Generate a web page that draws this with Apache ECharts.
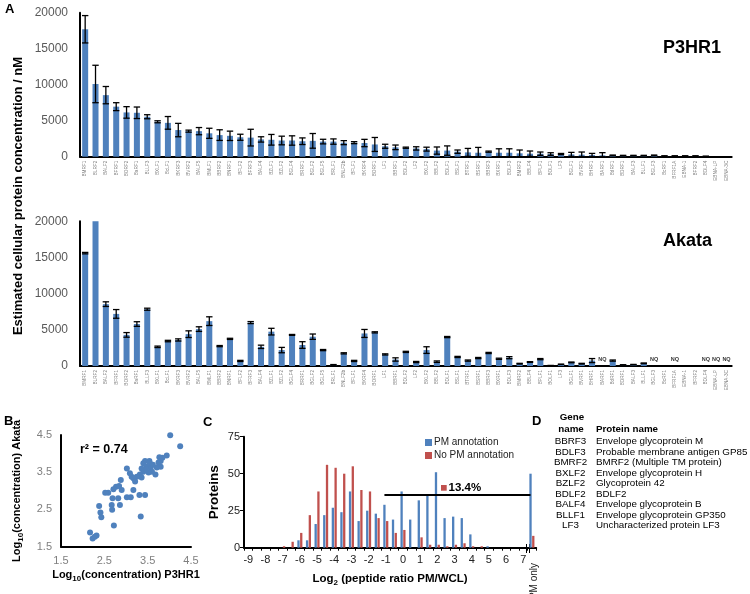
<!DOCTYPE html>
<html>
<head>
<meta charset="utf-8">
<script src="https://cdn.jsdelivr.net/npm/echarts@6/dist/echarts.min.js"></script>
<style>
html,body{margin:0;padding:0;background:#fff;}
#c{width:750px;height:594px;}
</style>
</head>
<body>
<div id="c"></div>
<script>
// ---------- Panel A data ----------
const categories = ['BMRF1','BLRF2','BALF2','BFRF1','BORF2','BaRF1','BLLF3','BXLF1','BcLF1','BKRF3','BVRF2','BALF5','BMLF1','BBRF2','BNRF1','BFLF2','BFRF3','BALF4','BZLF1','BZLF2','BGLF4','BRRF1','BGLF2','BGLF5','BRLF1','BNLF2b','BFLF1','BKRF4','BORF1','LF1','BBRF1','BDLF2','LF2','BXLF2','BBLF2','BDLF1','BSLF1','BTRF1','BSRF1','BBRF3','BXRF1','BDLF3','BMRF2','BBLF4','BPLF1','BOLF1','LF3','BGLF1','BVRF1','BHRF1','BARF1','BdRF1','BDRF1','BALF3','BLLF1','BGLF3','BcRF1','BFRF1A','EBNA-1','BFRF2','BDLF4','EBNA-LP','EBNA-3C'];
const p3hr1 = [17700,10100,8550,6950,6150,6100,5550,4850,4700,3700,3550,3550,3250,3000,2900,2700,2650,2400,2350,2250,2250,2150,2200,2100,2100,1950,1950,1900,1700,1450,1300,1250,1150,1050,850,850,700,600,550,700,550,550,470,420,420,370,370,320,280,230,190,180,140,140,140,180,90,90,90,90,50,0,0];
const p3hr1Err = [1900,2600,1200,550,800,800,280,140,880,930,140,500,700,740,650,420,1160,370,740,600,650,460,1020,320,370,280,140,510,970,280,320,80,230,270,500,650,230,550,740,80,550,550,460,370,230,180,80,280,370,230,370,50,50,50,50,50,40,40,40,40,30,0,0];
const akata = [15600,20000,8550,7200,4300,5800,7850,2650,3450,3600,4400,5100,6200,2750,3750,700,6000,2650,4750,2200,4300,2900,4050,2200,150,1750,700,4500,4650,1600,900,1950,550,2200,600,4000,1250,750,1100,1800,1000,1150,320,550,950,50,230,500,320,750,null,750,140,180,370,null,0,null,0,0,null,null,null];
const akataErr = [100,null,320,600,320,320,140,100,100,150,460,320,600,80,80,80,140,230,460,370,60,460,370,80,50,80,80,550,80,80,230,80,80,460,100,80,80,80,80,80,80,140,50,50,80,30,30,50,50,280,0,80,40,40,50,0,0,0,0,0,0,0,0];
const nqAkata = ['BARF1','BGLF3','BFRF1A','BDLF4','EBNA-LP','EBNA-3C'];

// ---------- Panel B data ----------
const scatterB = [
 [4.02,4.49],[4.25,4.20],[3.94,3.95],[3.84,3.89],[3.77,3.90],[3.80,3.80],[3.75,3.76],[3.80,3.65],
 [3.68,3.44],[3.54,3.80],[3.44,3.80],[3.40,3.74],[3.48,3.65],[3.57,3.63],[3.60,3.51],[3.52,3.49],
 [3.40,3.51],[3.32,3.44],[3.36,3.36],[3.25,3.38],[3.17,3.34],[3.21,3.25],[3.13,3.38],[3.02,3.60],
 [3.09,3.47],[2.88,3.29],[2.90,3.02],[2.77,3.11],[2.71,3.04],[2.84,3.13],[2.59,2.95],[2.52,2.95],
 [3.02,2.83],[3.11,2.83],[3.17,3.02],[3.31,2.89],[3.44,2.89],[2.69,2.80],[2.82,2.80],[2.86,2.62],
 [2.67,2.62],[2.68,2.49],[2.38,2.59],[2.41,2.42],[2.43,2.29],[2.72,2.07],[3.34,2.31],[2.17,1.88],
 [2.23,1.72],[2.32,1.80],[2.28,1.77],[3.55,3.74],[3.71,3.63],[3.46,3.58],[3.62,3.70],[3.36,3.60]
];

// ---------- Panel C data ----------
const histBins = ['-9','-8.5','-8','-7.5','-7','-6.5','-6','-5.5','-5','-4.5','-4','-3.5','-3','-2.5','-2','-1.5','-1','-0.5','0','0.5','1','1.5','2','2.5','3','3.5','4','4.5','5','5.5','6','6.5','7','PM only'];
const pmCounts =   [0,0,0,0,0,0,5,5,16,22,27,24,38,18,25,23,29,19,38,19,32,36,51,20,21,20,9,0,1,0,0,0,0,50];
const noPmCounts = [0,0,0,0,1,4,10,22,38,56,54,50,55,39,38,20,18,10,12,0,7,2,2,1,2,3,1,1,0,0,0,0,0,8];
const thresholdCount = 36;
const thresholdLabel = '13.4%';

// ---------- Panel D data ----------
const geneNames = ['BBRF3','BDLF3','BMRF2','BXLF2','BZLF2','BDLF2','BALF4','BLLF1','LF3'];
const proteinNames = ['Envelope glycoprotein M','Probable membrane antigen GP85','BMRF2 (Multiple TM protein)','Envelope glycoprotein H','Glycoprotein 42','BDLF2','Envelope glycoprotein B','Envelope glycoprotein GP350','Uncharacterized protein LF3'];

// ---------- styles ----------
const FONT = 'Liberation Sans, Arial, sans-serif';
const BLUE = '#4f81bd';
const RED = '#c0504d';

function errSeries(vals, errs, xi) {
  const data = [];
  vals.forEach((v, i) => {
    if (v != null && v > 0 && errs[i] != null) data.push([i, v, errs[i]]);
  });
  return {
    type: 'custom', xAxisIndex: xi, yAxisIndex: xi, data: data, z: 5,
    encode: {x: 0, y: 1},
    renderItem: function (params, api) {
      const i = api.value(0), v = api.value(1), e = api.value(2);
      const hi = api.coord([i, Math.min(v + e, 20000)]);
      const lo = api.coord([i, Math.max(v - e, 0)]);
      const hw = 3.2;
      const st = {stroke: '#000', lineWidth: 1.3};
      return {type: 'group', children: [
        {type: 'line', shape: {x1: hi[0], y1: hi[1], x2: lo[0], y2: lo[1]}, style: st},
        {type: 'line', shape: {x1: hi[0] - hw, y1: hi[1], x2: hi[0] + hw, y2: hi[1]}, style: st},
        {type: 'line', shape: {x1: lo[0] - hw, y1: lo[1], x2: lo[0] + hw, y2: lo[1]}, style: st}
      ]};
    }
  };
}

function catAxisA(gi) {
  return {
    type: 'category', gridIndex: gi, data: categories,
    axisLine: {lineStyle: {color: '#000', width: 2}},
    axisTick: {show: false},
    axisLabel: {interval: 0, rotate: 90, fontSize: 4.7, color: '#808080', margin: 4, fontFamily: FONT}
  };
}
function valAxisA(gi) {
  return {
    type: 'value', gridIndex: gi, min: 0, max: 20000, interval: 5000,
    axisLine: {show: true, lineStyle: {color: '#000', width: 2}},
    axisTick: {show: false}, splitLine: {show: false},
    axisLabel: {color: '#595959', fontSize: 12, margin: 12, fontFamily: FONT, formatter: function (v) { return String(v); }}
  };
}

const subRich = {
  b: {fontSize: 11, fontWeight: 'bold', fontFamily: FONT, color: '#000', lineHeight: 16},
  s: {fontSize: 8, fontWeight: 'bold', fontFamily: FONT, color: '#000', lineHeight: 9, verticalAlign: 'bottom'}
};

const graphics = [
  {type: 'text', x: 5, y: 3, style: {text: 'A', font: 'bold 13px ' + FONT, fill: '#000'}},
  {type: 'text', x: 4, y: 415, style: {text: 'B', font: 'bold 13px ' + FONT, fill: '#000'}},
  {type: 'text', x: 203, y: 416, style: {text: 'C', font: 'bold 13px ' + FONT, fill: '#000'}},
  {type: 'text', x: 532, y: 415, style: {text: 'D', font: 'bold 13px ' + FONT, fill: '#000'}},
  {type: 'text', x: 663, y: 48.5, style: {text: 'P3HR1', font: 'bold 18px ' + FONT, fill: '#000', verticalAlign: 'middle', textVerticalAlign: 'middle'}},
  {type: 'text', x: 663, y: 241.5, style: {text: 'Akata', font: 'bold 18px ' + FONT, fill: '#000', verticalAlign: 'middle', textVerticalAlign: 'middle'}},
  {type: 'text', x: 18, y: 196, rotation: Math.PI / 2,
   style: {text: 'Estimated cellular protein concentration / nM', font: 'bold 13px ' + FONT, fill: '#000',
           align: 'center', textAlign: 'center', verticalAlign: 'middle', textVerticalAlign: 'middle'}},
  {type: 'text', x: 80, y: 449.5,
   style: {text: 'r² = 0.74', font: 'bold 12.5px ' + FONT, fill: '#000', verticalAlign: 'middle', textVerticalAlign: 'middle'}},
  {type: 'rect', shape: {x: 441, y: 485, width: 5.7, height: 5.7}, style: {fill: RED}},
  {type: 'text', x: 448.5, y: 488.3,
   style: {text: thresholdLabel, font: 'bold 11.5px ' + FONT, fill: '#000', verticalAlign: 'middle', textVerticalAlign: 'middle'}},
  {type: 'text', x: 534, y: 563, rotation: Math.PI / 2,
   style: {text: 'PM only', font: '10px ' + FONT, fill: '#222', align: 'right', textAlign: 'right', verticalAlign: 'middle', textVerticalAlign: 'middle'}},
  // axis break marks on panel C
  {type: 'line', shape: {x1: 526.5, y1: 544, x2: 526.5, y2: 553}, style: {stroke: '#000', lineWidth: 1}},
  {type: 'line', shape: {x1: 529.5, y1: 544, x2: 529.5, y2: 553}, style: {stroke: '#000', lineWidth: 1}},
  // Panel D header
  {type: 'text', x: 572, y: 417, style: {text: 'Gene', font: 'bold 9.8px ' + FONT, fill: '#000', align: 'center', textAlign: 'center', verticalAlign: 'middle', textVerticalAlign: 'middle'}},
  {type: 'text', x: 571, y: 429.5, style: {text: 'name', font: 'bold 9.8px ' + FONT, fill: '#000', align: 'center', textAlign: 'center', verticalAlign: 'middle', textVerticalAlign: 'middle'}},
  {type: 'text', x: 596, y: 429.5, style: {text: 'Protein name', font: 'bold 9.8px ' + FONT, fill: '#000', verticalAlign: 'middle', textVerticalAlign: 'middle'}}
];
geneNames.forEach((g, i) => {
  const y = 441.5 + i * 10.5;
  graphics.push({type: 'text', x: 570.5, y: y, style: {text: g, font: '9.8px ' + FONT, fill: '#000', align: 'center', textAlign: 'center', verticalAlign: 'middle', textVerticalAlign: 'middle'}});
  graphics.push({type: 'text', x: 596, y: y, style: {text: proteinNames[i], font: '9.8px ' + FONT, fill: '#000', verticalAlign: 'middle', textVerticalAlign: 'middle'}});
});

const option = {
  animation: false,
  backgroundColor: '#fff',
  textStyle: {fontFamily: FONT},
  grid: [
    {left: 80, top: 12.7, width: 651.7, height: 144},
    {left: 80, top: 221.3, width: 651.7, height: 144.7},
    {left: 61, top: 435, width: 130, height: 111.7},
    {left: 244, top: 436.7, width: 292.2, height: 111}
  ],
  legend: {
    data: ['PM annotation', 'No PM annotation'],
    orient: 'vertical', left: 420, top: 432.5, itemWidth: 7, itemHeight: 7, itemGap: 3,
    icon: 'rect',
    textStyle: {fontSize: 10, color: '#222', fontFamily: FONT, padding: [0, 0, 0, -3]}
  },
  xAxis: [
    catAxisA(0), catAxisA(1),
    {type: 'value', gridIndex: 2, min: 1.5, max: 4.5, interval: 1,
     axisLine: {show: true, lineStyle: {color: '#000', width: 2}}, axisTick: {show: false}, splitLine: {show: false},
     axisLabel: {color: '#7f7f7f', fontSize: 11, margin: 9, fontFamily: FONT},
     name: '{b|Log}{s|10}{b|(concentration) P3HR1}', nameLocation: 'middle', nameGap: 20,
     nameTextStyle: {rich: subRich}},
    {type: 'category', gridIndex: 3, data: histBins,
     axisLine: {lineStyle: {color: '#000', width: 2}},
     axisTick: {show: true, interval: 0, length: 3, lineStyle: {color: '#000', width: 1}},
     axisLabel: {interval: function (i) { return i % 2 === 0 && i < 33; }, color: '#222', fontSize: 11, margin: 7, fontFamily: FONT},
     name: '{b|Log}{s|2}{b| (peptide ratio PM/WCL)}', nameLocation: 'middle', nameGap: 23,
     nameTextStyle: {rich: {b: Object.assign({}, subRich.b, {fontSize: 11.5}), s: subRich.s}}}
  ],
  yAxis: [
    valAxisA(0), valAxisA(1),
    {type: 'value', gridIndex: 2, min: 1.5, max: 4.5, interval: 1,
     axisLine: {show: true, lineStyle: {color: '#000', width: 2}}, axisTick: {show: false}, splitLine: {show: false},
     axisLabel: {color: '#7f7f7f', fontSize: 11, margin: 9, fontFamily: FONT},
     name: '{b|Log}{s|10}{b|(concentration) Akata}', nameLocation: 'middle', nameGap: 36,
     nameTextStyle: {rich: subRich}},
    {type: 'value', gridIndex: 3, min: 0, max: 75, interval: 25,
     axisLine: {show: true, lineStyle: {color: '#000', width: 2}},
     axisTick: {show: true, length: 4, lineStyle: {color: '#000', width: 1}}, splitLine: {show: false},
     axisLabel: {color: '#222', fontSize: 11, margin: 4, fontFamily: FONT},
     name: 'Proteins', nameLocation: 'middle', nameGap: 23,
     nameTextStyle: {fontSize: 13.5, fontWeight: 'bold', color: '#000', fontFamily: FONT}}
  ],
  series: [
    {type: 'bar', name: 'P3HR1', xAxisIndex: 0, yAxisIndex: 0, data: p3hr1, barWidth: 6, itemStyle: {color: BLUE}},
    errSeries(p3hr1, p3hr1Err, 0),
    {type: 'bar', name: 'Akata', xAxisIndex: 1, yAxisIndex: 1, data: akata, barWidth: 6, itemStyle: {color: BLUE}},
    errSeries(akata, akataErr, 1),
    {type: 'scatter', name: 'NQ', xAxisIndex: 1, yAxisIndex: 1, data: nqAkata.map(c => [c, 0]),
     symbolSize: 1, itemStyle: {color: 'rgba(0,0,0,0)'}, z: 6,
     label: {show: true, position: 'top', distance: 3, formatter: 'NQ', fontSize: 5.5, fontWeight: 'bold', color: '#000', fontFamily: FONT}},
    {type: 'scatter', name: 'B', xAxisIndex: 2, yAxisIndex: 2, data: scatterB, symbolSize: 6,
     itemStyle: {color: BLUE, opacity: 1}},
    {type: 'bar', name: 'PM annotation', xAxisIndex: 3, yAxisIndex: 3, data: pmCounts, barWidth: 2.3, barGap: '20%',
     itemStyle: {color: BLUE},
     markLine: {silent: true, symbol: 'none', label: {show: false},
       lineStyle: {color: '#000', width: 2, type: 'solid'},
       data: [[{coord: ['-1', thresholdCount]}, {coord: ['PM only', thresholdCount]}]]}},
    {type: 'bar', name: 'No PM annotation', xAxisIndex: 3, yAxisIndex: 3, data: noPmCounts, barWidth: 2.3, barGap: '20%',
     itemStyle: {color: RED}}
  ],
  graphic: graphics
};

const chart = echarts.init(document.getElementById('c'), null, {renderer: 'canvas'});
chart.setOption(option);
</script>
</body>
</html>
